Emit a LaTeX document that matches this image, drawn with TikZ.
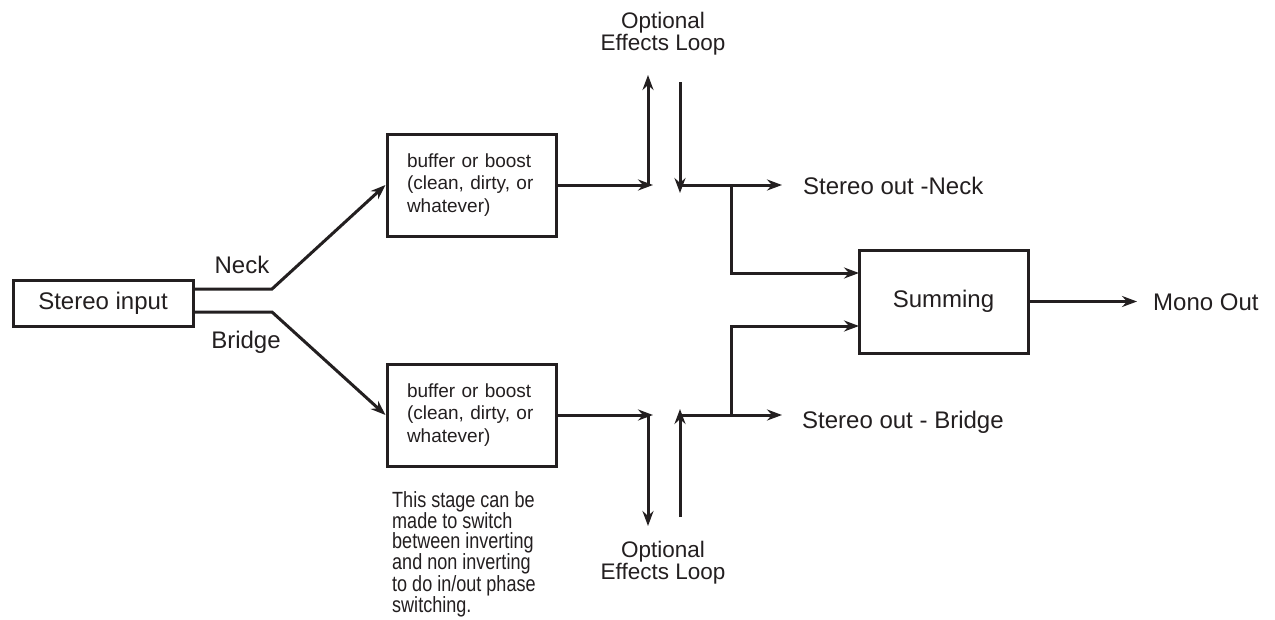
\documentclass[tikz,border=0pt]{standalone}
\usepackage{fontspec}
\setmainfont{Liberation Sans}
\newfontfamily\condfont[FakeStretch=0.82]{Liberation Sans}
\usetikzlibrary{arrows.meta}
\definecolor{ink}{RGB}{35,31,32}
\begin{document}
\begin{tikzpicture}[x=1pt,y=-1pt,color=ink,
  box/.style={draw=ink, line width=3pt, rectangle, inner sep=0pt},
  buf/.style={box, minimum width=169pt, minimum height=102pt, text width=129pt, align=left, font=\fontsize{19}{22.5}\selectfont},
  conn/.style={draw=ink, line width=3pt, -{Stealth[length=15pt,width=11pt,inset=5pt]}},
  lbl/.style={font=\fontsize{24}{28}\selectfont, inner sep=0pt, anchor=base west},
  loop/.style={font=\fontsize{22.5}{22}\selectfont, inner sep=0pt, align=center},
  note/.style={font=\condfont\fontsize{22}{19.5}\selectfont, inner sep=0pt, align=left, anchor=north west}]
\useasboundingbox (0,0) rectangle (1275,619);
\fill[white] (0,0) rectangle (1275,619);

% boxes
\node[box, minimum width=180pt, minimum height=46pt, font=\fontsize{24}{28}\selectfont] (in) at (103,303) {Stereo input};
\node[buf] (bufA) at (471.5,185) {buffer or boost\\(clean, dirty, or\\whatever)};
\node[buf] (bufB) at (471.5,415) {buffer or boost\\(clean, dirty, or\\whatever)};
\node[box, minimum width=169pt, minimum height=103pt, font=\fontsize{24}{28}\selectfont] (sum) at (943.5,301.5) {Summing};

% labels
\node[lbl, anchor=base] (neck) at (242,273) {Neck};
\node[lbl, anchor=base] (bridge) at (246,348) {Bridge};
\node[lbl] (outN) at (803,194) {Stereo out -Neck};
\node[lbl] (outB) at (802,428) {Stereo out - Bridge};
\node[lbl] (mono) at (1153,310) {Mono Out};
\node[loop] (loopA) at (663,34) {Optional\\Effects Loop};
\node[loop] (loopB) at (663,563) {Optional\\Effects Loop};
\node[note] (note) at (392,491) {This stage can be\\made to switch\\between inverting\\and non inverting\\to do in/out phase\\switching.};

% coordinates
\coordinate (nk) at (272,289);
\coordinate (br) at (272,312);
\coordinate (aT) at (653,185);
\coordinate (aS) at (648,185);
\coordinate (aU) at (648,75);
\coordinate (aR0) at (680,82);
\coordinate (aR1) at (680,193);
\coordinate (aR) at (680,185);
\coordinate (aJ) at (731,185);
\coordinate (aO) at (782,185);
\coordinate (sumA) at (859,273);
\coordinate (bT) at (653,415);
\coordinate (bS) at (648,415);
\coordinate (bD) at (648,526);
\coordinate (bU0) at (680,517);
\coordinate (bU1) at (680,409);
\coordinate (bR) at (680,415);
\coordinate (bJ) at (731,415);
\coordinate (bO) at (782,415);
\coordinate (sumB) at (859,326);
\coordinate (mo) at (1137,301.5);

% connectors
\draw[conn] (in.east |- nk) -- (nk) -- (bufA.west);
\draw[conn] (in.east |- br) -- (br) -- (bufB.west);

\draw[conn] (bufA.east) -- (aT);
\draw[conn] (aS) -- (aU);
\draw[conn] (aR0) -- (aR1);
\draw[conn] (aR) -- (aO);
\draw[conn] (aJ) -- (aJ |- sumA) -- (sumA);

\draw[conn] (bufB.east) -- (bT);
\draw[conn] (bS) -- (bD);
\draw[conn] (bU0) -- (bU1);
\draw[conn] (bR) -- (bO);
\draw[conn] (bJ) -- (bJ |- sumB) -- (sumB);

\draw[conn] (sum.east) -- (mo);
\end{tikzpicture}
\end{document}
